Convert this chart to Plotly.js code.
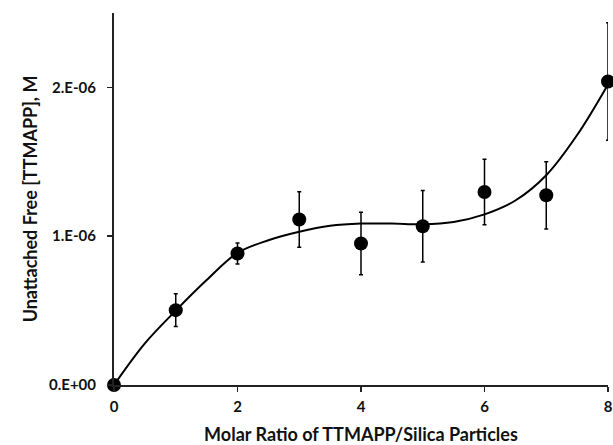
<!DOCTYPE html>
<html>
<head>
<meta charset="utf-8">
<script src="https://cdn.plot.ly/plotly-3.0.1.min.js"></script>
<style>html,body{margin:0;padding:0;background:#fff;}#chart{width:613px;height:445px;}</style>
</head>
<body>
<div id="chart"></div>
<script>
// Measured data points
const ratio = [0, 1, 2, 3, 4, 5, 6, 7, 8];
const freeConc = [0, 0.503e-6, 0.884e-6, 1.112e-6, 0.951e-6, 1.067e-6, 1.297e-6, 1.275e-6, 2.04e-6];
const freeErr = [0, 0.11e-6, 0.07e-6, 0.186e-6, 0.21e-6, 0.24e-6, 0.22e-6, 0.226e-6, 0.395e-6];

// Trend curve
const trendX = [0, 0.5, 1, 1.5, 2, 2.5, 3, 3.5, 4, 4.5, 5, 5.5, 6, 6.5, 7, 7.5, 8];
const trendY = [0, 0.28e-6, 0.50e-6, 0.705e-6, 0.888e-6, 0.973e-6, 1.03e-6, 1.07e-6, 1.085e-6, 1.085e-6, 1.08e-6, 1.096e-6, 1.147e-6, 1.24e-6, 1.41e-6, 1.68e-6, 2.02e-6];

// Tick labels
const xTickVals = [0, 2, 4, 6, 8];
const yTickVals = [0, 1e-6, 2e-6];
const yTickText = ["0.E+00", "1.E-06", "2.E-06"];

const font = "Lato, 'Open Sans', sans-serif";

const traces = [
  {
    x: trendX, y: trendY, type: 'scatter', mode: 'lines',
    line: {color: '#000', width: 2, shape: 'spline', smoothing: 1},
    hoverinfo: 'skip', cliponaxis: false
  },
  {
    x: ratio, y: freeConc, type: 'scatter', mode: 'markers',
    marker: {color: '#000', size: 14},
    error_y: {type: 'data', array: freeErr, visible: true, color: '#000', thickness: 1.5, width: 2},
    cliponaxis: false
  }
];

const layout = {
  width: 613, height: 445,
  margin: {l: 114, r: 5, t: 13, b: 60},
  paper_bgcolor: '#fff', plot_bgcolor: '#fff',
  showlegend: false,
  xaxis: {
    range: [0, 8], showgrid: false, zeroline: false,
    showline: true, linecolor: '#222', linewidth: 2,
    ticks: 'outside', ticklen: 5, tickwidth: 1.5, tickcolor: '#222',
    tickvals: xTickVals,
    ticklabelstandoff: 2,
    tickfont: {family: font, size: 15, color: '#111', weight: 700},
    title: {text: 'Molar Ratio of TTMAPP/Silica Particles', font: {family: font, size: 18, color: '#111', weight: 700}, standoff: 16}
  },
  yaxis: {
    range: [0, 2.5e-6], showgrid: false, zeroline: false,
    showline: true, linecolor: '#222', linewidth: 2,
    ticks: 'outside', ticklen: 5, tickwidth: 1.5, tickcolor: '#222',
    tickvals: yTickVals, ticktext: yTickText,
    ticklabelstandoff: 8,
    tickfont: {family: font, size: 15, color: '#111', weight: 700},
    title: {text: 'Unattached Free [TTMAPP], M', font: {family: font, size: 18, color: '#111', weight: 700}, standoff: 7}
  }
};

Plotly.newPlot('chart', traces, layout, {staticPlot: true, displayModeBar: false});
</script>
</body>
</html>
